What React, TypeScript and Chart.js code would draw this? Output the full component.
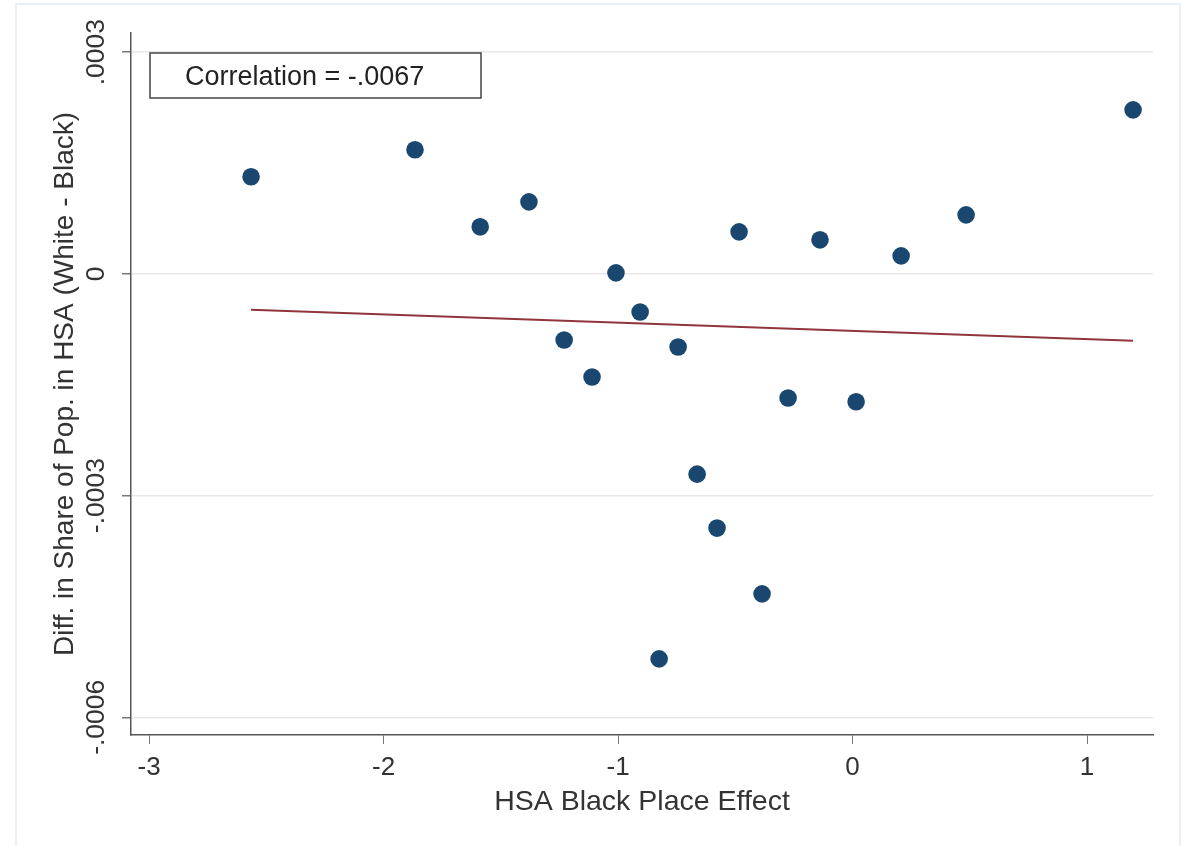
import React, { useEffect, useRef } from 'react';
import { Chart, registerables } from 'chart.js';

Chart.register(...registerables);

// HSA black place effect (x) vs. difference in population share, white - black (y)
const placeEffect = [
  -2.565, -1.866, -1.588, -1.380, -1.009, -0.906, -1.230, -1.111, -0.744, -0.484,
  -0.663, -0.578, -0.386, -0.825, -0.275, -0.139, 0.015, 0.207, 0.484, 1.196,
];
const popShareDiff = [
  0.0001314, 0.000168, 0.0000637, 0.0000975, 0.0000014, -0.0000515, -0.0000894, -0.0001395, -0.0000989, 0.0000569,
  -0.000271, -0.000344, -0.000433, -0.000521, -0.000168, 0.0000461, -0.000173, 0.0000244, 0.0000799, 0.000222,
];

// linear fit line, endpoints
const fitX = [-2.565, 1.196];
const fitY = [-0.0000485, -0.0000906];

const xTickValues = [-3, -2, -1, 0, 1];
const yTickValues = [-0.0006, -0.0003, 0, 0.0003];
const yTickLabels = ['-.0006', '-.0003', '0', '.0003'];

const correlationText = 'Correlation = -.0067';

const FONT = '"Liberation Sans", Arial, Helvetica, sans-serif';

const corrBox = {
  id: 'corrBox',
  afterDraw(chart) {
    const { ctx, chartArea } = chart;
    const x = chartArea.left + 19;
    const y = chartArea.top + 20;
    ctx.save();
    ctx.fillStyle = '#ffffff';
    ctx.fillRect(x, y, 331, 45);
    ctx.strokeStyle = '#444';
    ctx.lineWidth = 1.5;
    ctx.strokeRect(x, y, 331, 45);
    ctx.fillStyle = '#222';
    ctx.font = `27px ${FONT}`;
    ctx.textBaseline = 'middle';
    ctx.textAlign = 'left';
    ctx.fillText(correlationText, x + 35, y + 25);
    ctx.restore();
  },
};

const App = () => {
  const canvasRef = useRef<HTMLCanvasElement>(null);

  useEffect(() => {
    const chart = new Chart(canvasRef.current, {
      type: 'scatter',
      data: {
        datasets: [
          {
            type: 'line',
            data: fitX.map((x, i) => ({ x, y: fitY[i] })),
            borderColor: '#90353b',
            borderWidth: 2,
            pointRadius: 0,
            order: 0,
          },
          {
            data: placeEffect.map((x, i) => ({ x, y: popShareDiff[i] })),
            backgroundColor: '#1a476f',
            borderWidth: 0,
            pointRadius: 8.8,
            order: 1,
          },
        ],
      },
      options: {
        animation: false,
        responsive: true,
        maintainAspectRatio: false,
        layout: { padding: { left: 0, top: 33, right: 35, bottom: 0 } },
        plugins: {
          legend: { display: false },
          tooltip: { enabled: false },
        },
        scales: {
          x: {
            type: 'linear',
            min: -3.077,
            max: 1.281,
            afterBuildTicks: (scale) => {
              scale.ticks = xTickValues.map((value) => ({ value }));
            },
            afterFit: (scale) => {
              scale.height = 111;
            },
            ticks: {
              callback: (v) => String(v),
              color: '#333',
              font: { family: FONT, size: 26 },
              padding: 8,
              maxRotation: 0,
            },
            grid: {
              drawOnChartArea: false,
              drawTicks: true,
              tickLength: 9,
              tickColor: '#777',
            },
            border: { display: true, color: '#555', width: 1.5 },
            title: {
              display: true,
              text: 'HSA Black Place Effect',
              color: '#333',
              font: { family: FONT, size: 28.5 },
              padding: { top: 0, bottom: 27 },
            },
          },
          y: {
            type: 'linear',
            min: -0.000624,
            max: 0.000326,
            afterBuildTicks: (scale) => {
              scale.ticks = yTickValues.map((value) => ({ value }));
            },
            afterFit: (scale) => {
              scale.width = 131;
            },
            ticks: {
              callback: (v) => yTickLabels[yTickValues.indexOf(v)] ?? '',
              color: '#333',
              font: { family: FONT, size: 26.5 },
              minRotation: 90,
              maxRotation: 90,
              crossAlign: 'center',
              padding: -12,
            },
            grid: {
              color: '#e8e8e8',
              lineWidth: 1.5,
              drawTicks: true,
              tickLength: 9,
              tickColor: '#777',
            },
            border: { display: true, color: '#555', width: 1.5 },
            title: {
              display: true,
              text: 'Diff. in Share of Pop. in HSA (White - Black)',
              color: '#333',
              font: { family: FONT, size: 28 },
              padding: { top: 48, bottom: 0 },
            },
          },
        },
      },
      plugins: [corrBox],
    });

    return () => chart.destroy();
  }, []);

  return (
    <div style={{ position: 'absolute', left: 0, top: 0, width: 1188, height: 846, background: '#fff' }}>
      <div
        style={{
          position: 'absolute',
          left: 15,
          top: 3,
          width: 1166,
          height: 843,
          border: '2px solid #eaf0f6',
          borderBottom: 'none',
          boxSizing: 'border-box',
        }}
      />
      <div style={{ position: 'absolute', left: 0, top: 0, width: 1188, height: 846 }}>
        <canvas ref={canvasRef} />
      </div>
    </div>
  );
};

export default App;
